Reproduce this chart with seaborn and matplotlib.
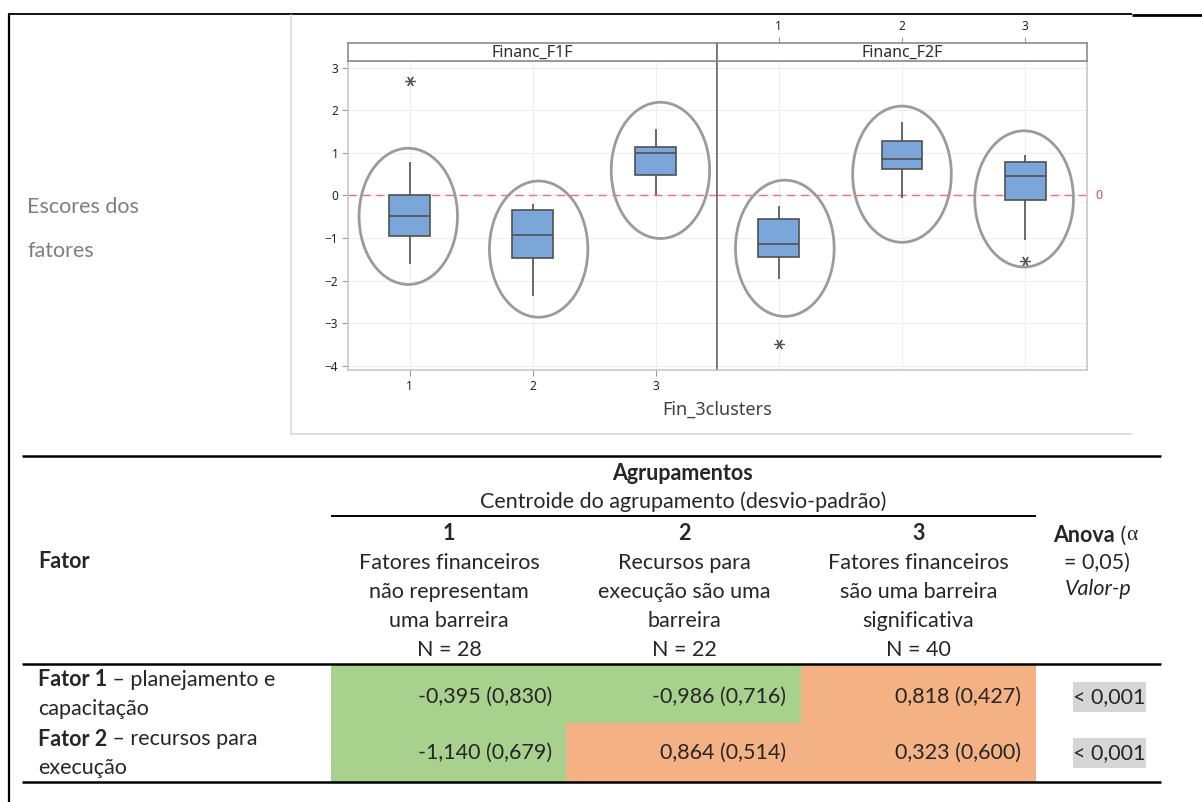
import numpy as np
import pandas as pd
import matplotlib
matplotlib.use("Agg")
import matplotlib.pyplot as plt
from matplotlib.patches import Ellipse, Rectangle
from matplotlib.colors import ListedColormap
from matplotlib.transforms import blended_transform_factory
import seaborn as sns

# ---------------- factor scores by cluster (box-plot summaries) ----------------
clusters = [1, 2, 3]

f1_whisker_low = [-1.60, -2.37, 0.00]
f1_q1 = [-0.95, -1.46, 0.48]
f1_median = [-0.48, -0.92, 0.99]
f1_q3 = [0.00, -0.35, 1.13]
f1_whisker_high = [0.79, -0.19, 1.56]
f1_outlier_cluster = [1]
f1_outlier_value = [2.68]

f2_whisker_low = [-1.97, -0.05, -1.05]
f2_q1 = [-1.44, 0.62, -0.11]
f2_median = [-1.13, 0.85, 0.46]
f2_q3 = [-0.56, 1.27, 0.79]
f2_whisker_high = [-0.25, 1.73, 0.95]
f2_outlier_cluster = [1, 3]
f2_outlier_value = [-3.48, -1.54]

# rings drawn around each cluster's scores
f1_ring_x = [0.99, 2.05, 3.04]
f1_ring_y = [-0.49, -1.26, 0.59]
f2_ring_x = [1.05, 2.00, 2.99]
f2_ring_y = [-1.24, 0.50, -0.08]

panel_titles = ["Financ_F1F", "Financ_F2F"]
x_title = "Fin_3clusters"
side_label = ["Escores dos", "fatores"]

# ---------------- cluster centroid table ----------------
cluster_ids = ["1", "2", "3"]
cluster_desc = [
    ["Fatores financeiros", "não representam", "uma barreira"],
    ["Recursos para", "execução são uma", "barreira"],
    ["Fatores financeiros", "são uma barreira", "significativa"],
]
cluster_n = [28, 22, 40]
factor_names = ["Fator 1", "Fator 2"]
factor_desc = [[" – planejamento e", "capacitação"], [" – recursos para", "execução"]]
centroid_f1 = [-0.395, -0.986, 0.818]
sd_f1 = [0.830, 0.716, 0.427]
centroid_f2 = [-1.140, 0.864, 0.323]
sd_f2 = [0.679, 0.514, 0.600]
anova_p = ["< 0,001", "< 0,001"]

# ---------------- style ----------------
sns.set_theme(style="white")
plt.rcParams["font.family"] = ["Lato", "DejaVu Sans"]
CHART_FONT = ["Noto Sans", "DejaVu Sans"]
BOX = "#7ba6d9"
EDGE = "#505050"
RING = "#9b9b9b"
GREEN = "#a9d18e"
ORANGE = "#f4b183"
HILITE = "#d6d6d6"

W, H = 1202, 802
fig = plt.figure(figsize=(W / 100, H / 100), dpi=100)
fig.patch.set_facecolor("white")


def rect(x0, y0, x1, y1):
    return [x0 / W, 1 - y1 / H, (x1 - x0) / W, (y1 - y0) / H]


def summary_frame(lo, q1, med, q3, hi):
    rows = []
    for c, *vals in zip(clusters, lo, q1, med, q3, hi):
        for v in vals:
            rows.append({"cluster": c, "score": v})
    return pd.DataFrame(rows)


panels = [
    (summary_frame(f1_whisker_low, f1_q1, f1_median, f1_q3, f1_whisker_high),
     f1_outlier_cluster, f1_outlier_value, f1_ring_x, f1_ring_y),
    (summary_frame(f2_whisker_low, f2_q1, f2_median, f2_q3, f2_whisker_high),
     f2_outlier_cluster, f2_outlier_value, f2_ring_x, f2_ring_y),
]

ax1 = fig.add_axes(rect(348, 61, 717, 370))
ax2 = fig.add_axes(rect(717, 61, 1087, 370))
s1 = fig.add_axes(rect(348, 43, 717, 61))
s2 = fig.add_axes(rect(717, 43, 1087, 61))

for ax, strip, title, (df, ox, oy, rx, ry) in zip([ax1, ax2], [s1, s2], panel_titles, panels):
    sns.boxplot(data=df, x="cluster", y="score", native_scale=True, width=0.33,
                whis=(0, 100), color=BOX, saturation=1, linecolor=EDGE,
                linewidth=1.2, showcaps=False, showfliers=False, ax=ax, zorder=3)
    ax.plot(ox, oy, ls="none", marker=(6, 2, 90), ms=7.5, mew=0.9, color="#555555", zorder=4)
    for x, y in zip(rx, ry):
        ax.add_patch(Ellipse((x, y), 0.80, 3.2, fill=False, ec=RING, lw=2.0, zorder=5))
    ax.axhline(0, color="#ff6b6b", ls=(0, (6, 4)), lw=1.0, zorder=2)
    ax.set_xlim(0.5, 3.5)
    ax.set_ylim(-4.1, 3.16)
    ax.set_xticks(clusters)
    ax.set_yticks(range(-4, 4))
    ax.grid(True, color="#eeeeee", lw=0.8)
    ax.set_axisbelow(True)
    ax.set_xlabel("")
    ax.set_ylabel("")
    for sp in ax.spines.values():
        sp.set_color("#c8c8c8")
        sp.set_linewidth(1.2)

    strip.set_xlim(0.5, 3.5)
    strip.set_ylim(0, 1)
    strip.set_yticks([])
    strip.set_xticks([])
    strip.set_facecolor("white")
    for sp in strip.spines.values():
        sp.set_color("#8c8c8c")
        sp.set_linewidth(1.2)
    strip.text(0.5, 0.45, title, transform=strip.transAxes, ha="center", va="center",
               fontsize=11.5, color="#2e2e2e", family=CHART_FONT)

tick_kw = dict(length=4, width=0.8, color="#9a9a9a", labelsize=8.5, labelcolor="#222222", pad=3)
ax1.tick_params(axis="both", bottom=True, left=True, **tick_kw)
for lab in ax1.get_xticklabels() + ax1.get_yticklabels():
    lab.set_family(CHART_FONT)
ax2.tick_params(axis="both", bottom=False, left=False, labelbottom=False, labelleft=False)
s2.set_xticks(clusters)
s2.xaxis.tick_top()
s2.tick_params(axis="x", top=True, **tick_kw)
for lab in s2.get_xticklabels():
    lab.set_family(CHART_FONT)

# dark divider between the two panels
ax1.spines["right"].set_color("#6e6e6e")
s1.spines["right"].set_color("#6e6e6e")
ax2.spines["left"].set_color("#6e6e6e")
s2.spines["left"].set_color("#6e6e6e")

# reference-line label
ax2.text(1.022, 0, "0", transform=blended_transform_factory(ax2.transAxes, ax2.transData),
         ha="left", va="center", fontsize=9, color="#c0504d", family=CHART_FONT)

fig.text(717 / W, 1 - 410 / H, x_title, ha="center", va="center", fontsize=13,
         color="#404040", family=CHART_FONT)

# ---------------- table cells (shaded by sign of the centroid) ----------------
cells = fig.add_axes(rect(331, 664, 1036, 782), zorder=1)
sns.heatmap(np.array([centroid_f1, centroid_f2]), cmap=ListedColormap([GREEN, ORANGE]),
            vmin=-1.5, vmax=1.5, cbar=False, xticklabels=False, yticklabels=False,
            linewidths=0, ax=cells)
for sp in cells.spines.values():
    sp.set_visible(False)

# ---------------- overlay for page frame, rules and table text ----------------
ov = fig.add_axes([0, 0, 1, 1], zorder=10)
ov.set_xlim(0, W)
ov.set_ylim(H, 0)
ov.axis("off")
ov.patch.set_visible(False)
renderer = fig.canvas.get_renderer()

line_kw = dict(color="black", solid_capstyle="butt")
ov.plot([8, 1132], [14, 14], lw=1.3, **line_kw)
ov.plot([1132, 1202], [14.5, 14.5], lw=2.0, **line_kw)
ov.plot([9, 9], [14, 802], lw=1.6, **line_kw)
ov.plot([291, 291], [15, 434], color="#dadada", lw=1.2)
ov.plot([291, 1132], [434, 434], color="#dadada", lw=1.2)

ov.plot([22, 1161], [456, 456], lw=1.8, **line_kw)
ov.plot([331, 1036], [516, 516], lw=1.4, **line_kw)
ov.plot([22, 1161], [664, 664], lw=1.8, **line_kw)
ov.plot([22, 1161], [782, 782], lw=1.8, **line_kw)

FS = 15.5
for i, t in enumerate(side_label):
    ov.text(27, 207 + 44 * i, t, ha="left", va="center", fontsize=FS, color="#7f7f7f")

ov.text(683, 473, "Agrupamentos", ha="center", va="center", fontsize=FS, fontweight="bold")
ov.text(683, 502, "Centroide do agrupamento (desvio-padrão)", ha="center", va="center", fontsize=FS)

col_edges = [331, 567, 801, 1036]
for j in range(3):
    cx = (col_edges[j] + col_edges[j + 1]) / 2
    ov.text(cx, 533, cluster_ids[j], ha="center", va="center", fontsize=FS, fontweight="bold")
    for k, line in enumerate(cluster_desc[j]):
        ov.text(cx, 563 + 29 * k, line, ha="center", va="center", fontsize=FS)
    ov.text(cx, 650, f"N = {cluster_n[j]}", ha="center", va="center", fontsize=FS)

ov.text(38, 562, "Fator", ha="left", va="center", fontsize=FS, fontweight="bold")


def run_text(x, y, pieces):
    for text, kw in pieces:
        t = ov.text(x, y, text, ha="left", va="center", fontsize=FS, **kw)
        bb = t.get_window_extent(renderer)
        x += bb.width


run_text(1053, 536, [("Anova", dict(fontweight="bold")), (" (", {}),
                     ("α", dict(family="Liberation Serif"))])
ov.text(1097, 563, "= 0,05)", ha="center", va="center", fontsize=FS)
ov.text(1098, 589, "Valor-p", ha="center", va="center", fontsize=FS, style="italic")


def fmt(v):
    return f"{v:.3f}".replace(".", ",")


row_y = [[680, 709], [739, 768]]
value_y = [697, 753]
for r, (cent, sd) in enumerate([(centroid_f1, sd_f1), (centroid_f2, sd_f2)]):
    run_text(38, row_y[r][0], [(factor_names[r], dict(fontweight="bold")), (factor_desc[r][0], {})])
    ov.text(38, row_y[r][1], factor_desc[r][1], ha="left", va="center", fontsize=FS)
    for j in range(3):
        ov.text(col_edges[j + 1] - 15, value_y[r], f"{fmt(cent[j])} ({fmt(sd[j])})",
                ha="right", va="center", fontsize=FS)
    ov.add_patch(Rectangle((1073, value_y[r] - 15), 73, 30, color=HILITE, lw=0, zorder=1))
    ov.text(1109.5, value_y[r], anova_p[r], ha="center", va="center", fontsize=FS, zorder=2)

fig.savefig("out.png", dpi=100, facecolor="white")
